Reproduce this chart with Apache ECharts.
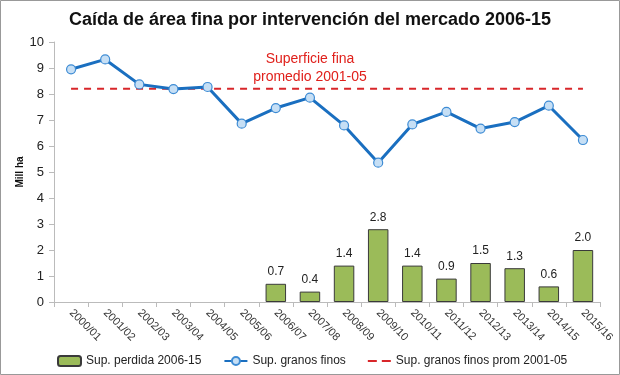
<!DOCTYPE html>
<html lang="es" style="height: 100%">
<head>
<meta charset="utf-8">
<title>Caída de área fina</title>
</head>
<body style="height: 100%; margin: 0">
<div id="container" style="width: 620px; height: 375px"></div>

<script type="text/javascript" src="https://cdn.jsdelivr.net/npm/echarts/dist/echarts.min.js"></script>

<script type="text/javascript">

var campanas = ['2000/01', '2001/02', '2002/03', '2003/04', '2004/05', '2005/06', '2006/07', '2007/08',
    '2008/09', '2009/10', '2010/11', '2011/12', '2012/13', '2013/14', '2014/15', '2015/16'];

// superficie perdida (barras), solo desde 2006/07
var perdida = [null, null, null, null, null, null, 0.7, 0.4, 1.4, 2.8, 1.4, 0.9, 1.5, 1.3, 0.6, 2.0];

// superficie de granos finos
var granosFinos = [8.95, 9.33, 8.37, 8.19, 8.27, 6.86, 7.46, 7.86, 6.79, 5.36, 6.83, 7.31, 6.67, 6.92, 7.55, 6.23];

// promedio 2001-05
var promedio = [8.2, 8.2, 8.2, 8.2, 8.2, 8.2, 8.2, 8.2, 8.2, 8.2, 8.2, 8.2, 8.2, 8.2, 8.2, 8.2];

var yTicks = { min: 0, max: 10, interval: 1 };

var fuente = 'Liberation Sans';

var dom = document.getElementById('container');
var myChart = echarts.init(dom);

var option = {
    backgroundColor: '#fff',
    animation: false,
    textStyle: { fontFamily: fuente },
    title: {
        text: 'Caída de área fina por intervención del mercado 2006-15',
        left: 'center',
        top: 6,
        textStyle: { fontSize: 18, fontWeight: 'bold', color: '#111', fontFamily: fuente }
    },
    grid: { left: 54, right: 20, top: 42, bottom: 73 },
    legend: {
        bottom: 3,
        left: 52,
        itemGap: 22,
        itemWidth: 23,
        itemHeight: 10,
        textStyle: { fontSize: 12, color: '#222' },
        data: [
            { name: 'Sup. perdida 2006-15' },
            { name: 'Sup. granos finos' },
            { name: 'Sup. granos finos prom 2001-05', icon: 'path://M0,4 L9,4 L9,6 L0,6 Z M14,4 L23,4 L23,6 L14,6 Z' }
        ]
    },
    xAxis: {
        type: 'category',
        data: campanas,
        boundaryGap: true,
        axisLine: { lineStyle: { color: '#bbb' } },
        axisTick: { show: true, length: 5, lineStyle: { color: '#bbb' } },
        axisLabel: { rotate: -45, fontSize: 11, color: '#333', margin: 9 }
    },
    yAxis: {
        type: 'value',
        min: yTicks.min,
        max: yTicks.max,
        interval: yTicks.interval,
        name: 'Mill ha',
        nameLocation: 'middle',
        nameGap: 29,
        nameMoveOverlap: false,
        nameTextStyle: { fontSize: 10, fontWeight: 'bold', color: '#111' },
        axisLine: { show: true, lineStyle: { color: '#bbb' } },
        axisTick: { show: true, length: 5, lineStyle: { color: '#bbb' } },
        axisLabel: { fontSize: 13, color: '#222', margin: 10 },
        splitLine: { show: false }
    },
    graphic: [
        {
            type: 'rect',
            shape: { x: 0.5, y: 0.5, width: 619, height: 374 },
            style: { fill: 'none', stroke: '#999', lineWidth: 1 },
            silent: true
        },
        {
            type: 'text',
            left: 'center',
            top: 50,
            style: {
                text: 'Superficie fina\npromedio 2001-05',
                fill: '#e0201b',
                fontSize: 14,
                fontFamily: fuente,
                textAlign: 'center',
                lineHeight: 18
            }
        }
    ],
    series: [
        {
            name: 'Sup. perdida 2006-15',
            type: 'bar',
            data: perdida,
            barWidth: '60%',
            itemStyle: { color: '#9bbb59', borderColor: '#3a3a3a', borderWidth: 1 },
            label: {
                show: true,
                position: 'top',
                distance: 6,
                fontSize: 12,
                color: '#222',
                formatter: function (p) { return p.value.toFixed(1); }
            }
        },
        {
            name: 'Sup. granos finos',
            type: 'line',
            data: granosFinos,
            symbol: 'circle',
            symbolSize: 9,
            lineStyle: { color: '#1a6fc0', width: 3 },
            itemStyle: { color: '#c6dff5', borderColor: '#3d8bd4', borderWidth: 1.2 },
            z: 3
        },
        {
            name: 'Sup. granos finos prom 2001-05',
            type: 'line',
            data: promedio,
            symbol: 'none',
            lineStyle: { color: '#d8262a', width: 2, type: [7, 6] },
            itemStyle: { color: '#d8262a' },
            z: 2
        }
    ]
};

if (option && typeof option === 'object') {
    myChart.setOption(option);
}

window.addEventListener('resize', myChart.resize);
</script>
</body>
</html>
